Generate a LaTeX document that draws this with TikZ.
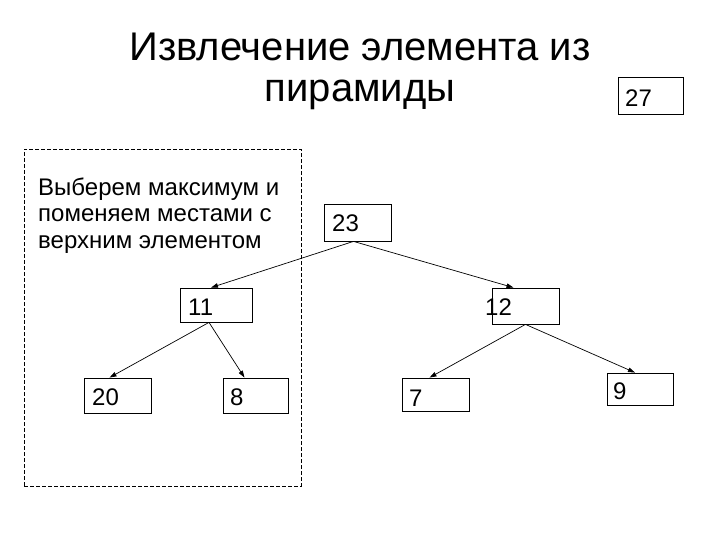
\documentclass[tikz,border=0pt]{standalone}
\usepackage{fontspec}
\setmainfont{Liberation Sans}
\usetikzlibrary{arrows.meta}
\begin{document}
\begin{tikzpicture}[x=1pt,y=-1pt,
  numbox/.style={draw,line width=0.8pt,inner sep=0pt,rectangle},
  numtxt/.style={anchor=base west,inner sep=0pt,font=\fontsize{24}{28}\selectfont},
  conn/.style={line width=0.7pt,-{Triangle[length=7pt,width=4.5pt]}}]
\useasboundingbox (0,0) rectangle (720,540);
% title (base anchor = baseline of last line)
\node[anchor=base,inner sep=0pt,align=center,font=\fontsize{40}{41}\selectfont] (title) at (360,102) {Извлечение элемента из\\пирамиды};
% dashed frame
\node[draw,dash pattern=on 4pt off 2pt,line width=0.8pt,minimum width=277pt,minimum height=337pt,inner sep=0pt] (frame) at (162.5,317.5) {};
\node[anchor=base west,inner sep=0pt,align=left,font=\fontsize{24}{26.5}\selectfont] (note) at (38,248) {Выберем максимум и\\поменяем местами с\\верхним элементом};
% boxes
\node[numbox,minimum width=65pt,minimum height=37pt] (b27) at (650.5,95.5) {};
\node[numbox,minimum width=67pt,minimum height=37pt] (b23) at (357.5,222.5) {};
\node[numbox,minimum width=72pt,minimum height=34pt] (b11) at (216,305) {};
\node[numbox,minimum width=67pt,minimum height=36pt] (b12) at (525.5,306) {};
\node[numbox,minimum width=67pt,minimum height=35pt] (b20) at (117.5,395.5) {};
\node[numbox,minimum width=65pt,minimum height=35pt] (b8) at (255.5,395.5) {};
\node[numbox,minimum width=67pt,minimum height=33pt] (b7) at (435.5,394.5) {};
\node[numbox,minimum width=66pt,minimum height=32pt] (b9) at (640,389) {};
% numbers
\node[numtxt] (t27) at (625,107) {27};
\node[numtxt] (t23) at (332,232) {23};
\node[numtxt] (t11) at (188,315) {11};
\node[numtxt] (t12) at (485,315) {12};
\node[numtxt] (t20) at (92,405) {20};
\node[numtxt] (t8) at (230,405) {8};
\node[numtxt] (t7) at (409,406) {7};
\node[numtxt] (t9) at (613,399) {9};
% connectors
\draw[conn] ([xshift=-4pt]b23.south) -- ([xshift=-5pt]b11.north);
\draw[conn] ([xshift=-4pt]b23.south) -- ([xshift=-12pt]b12.north);
\draw[conn] ([xshift=-7pt]b11.south) -- ([xshift=-8pt]b20.north);
\draw[conn] ([xshift=-7pt]b11.south) -- ([xshift=-11pt]b8.north);
\draw[conn] (b12.south) -- ([xshift=-6pt]b7.north);
\draw[conn] (b12.south) -- ([xshift=-5pt]b9.north);
\end{tikzpicture}
\end{document}
